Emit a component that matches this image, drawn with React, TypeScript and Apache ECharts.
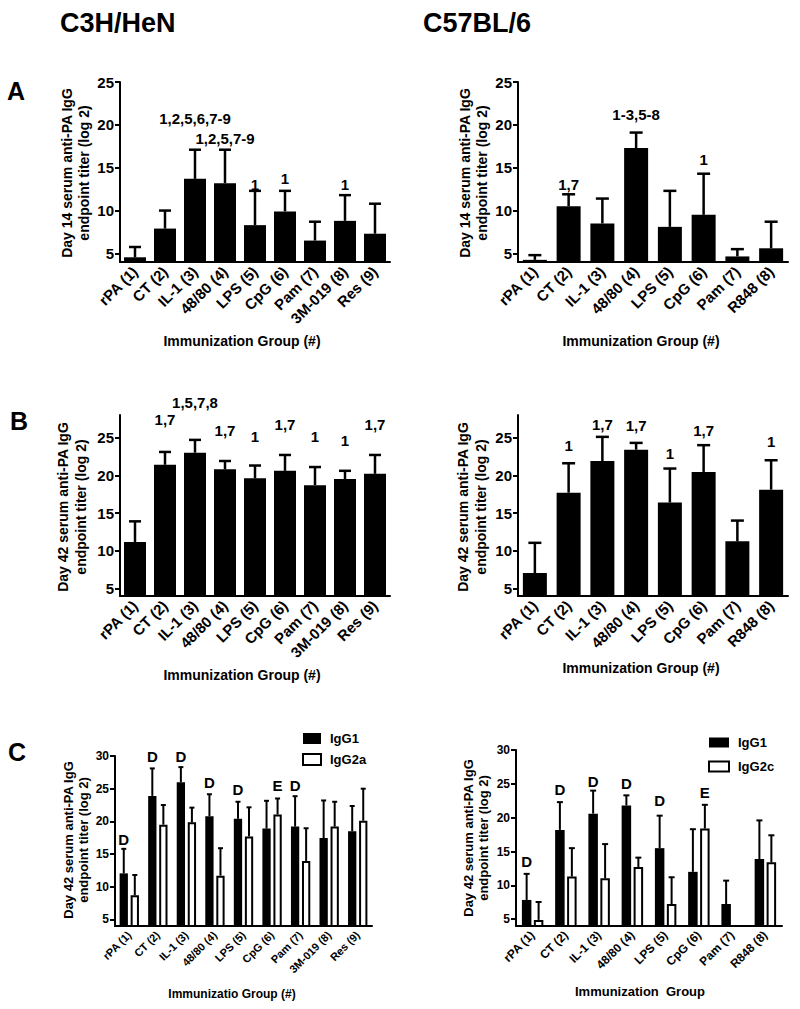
import React, { useEffect, useRef } from "react";
import * as echarts from "echarts";

const FONT = "'Liberation Sans', Arial, Helvetica, sans-serif";

// Categories
const catsC3H = ["rPA (1)", "CT (2)", "IL-1 (3)", "48/80 (4)", "LPS (5)", "CpG (6)", "Pam (7)", "3M-019 (8)", "Res (9)"];
const catsC57 = ["rPA (1)", "CT (2)", "IL-1 (3)", "48/80 (4)", "LPS (5)", "CpG (6)", "Pam (7)", "R848 (8)"];

// Panel A: Day 14 total IgG (mean, mean+SD)
const meanA_C3H = [4.55, 7.9, 13.7, 13.2, 8.3, 9.9, 6.5, 8.8, 7.3];
const errA_C3H = [5.75, 10.0, 17.1, 17.1, 12.3, 12.3, 8.7, 11.8, 10.8];
const meanA_C57 = [4.25, 10.5, 8.5, 17.3, 8.1, 9.5, 4.65, 5.6];
const errA_C57 = [4.8, 11.9, 11.4, 19.1, 12.3, 14.3, 5.5, 8.7];

// Panel B: Day 42 total IgG
const meanB_C3H = [11.15, 21.4, 23.0, 20.8, 19.6, 20.6, 18.7, 19.5, 20.2];
const errB_C3H = [13.9, 23.1, 24.7, 21.9, 21.3, 22.7, 21.1, 20.6, 22.7];
const meanB_C57 = [7.05, 17.7, 21.9, 23.4, 16.4, 20.45, 11.25, 18.1];
const errB_C57 = [11.05, 21.6, 25.1, 24.3, 20.9, 24.0, 14.0, 22.0];

// Panel C: Day 42 subclasses
const igg1_C3H = [12.05, 23.9, 26.0, 20.8, 20.4, 18.9, 19.2, 17.45, 18.5];
const igg1Err_C3H = [15.8, 28.1, 28.3, 24.15, 23.0, 23.15, 23.85, 23.2, 22.35];
const igg2a_C3H = [8.7, 19.5, 19.85, 11.7, 17.7, 21.05, 13.95, 19.2, 20.1];
const igg2aErr_C3H = [11.8, 22.5, 22.1, 15.9, 22.15, 23.5, 18.95, 23.0, 25.0];
const igg1_C57 = [7.85, 18.2, 20.6, 21.8, 15.5, 12.0, 7.25, 13.9];
const igg1Err_C57 = [11.7, 22.3, 24.0, 23.3, 20.3, 18.3, 10.7, 19.6];
const igg2c_C57 = [4.9, 11.3, 11.05, 12.7, 7.25, 18.4, null, 13.4];
const igg2cErr_C57 = [7.55, 15.5, 16.1, 14.1, 11.2, 21.9, null, 17.4];

// Tick labels
const ticksAB = [5, 10, 15, 20, 25];
const ticksC = [5, 10, 15, 20, 25, 30];

// Significance annotations: [category index, y value, text, bar (0 = IgG1, 1 = IgG2)]
const annA_C3H: [number, number, string][] = [[2, 20.7, "1,2,5,6,7-9"], [3, 18.4, "1,2,5,7-9"], [4, 13.05, "1"], [5, 13.7, "1"], [7, 13.05, "1"]];
const annA_C57: [number, number, string][] = [[1, 13.05, "1,7"], [3, 21.25, "1-3,5-8"], [5, 16.0, "1"]];
const annB_C3H: [number, number, string][] = [[1, 27.4, "1,7"], [2, 29.7, "1,5,7,8"], [3, 25.9, "1,7"], [4, 25.2, "1"], [5, 26.7, "1,7"], [6, 25.2, "1"], [7, 24.6, "1"], [8, 26.7, "1,7"]];
const annB_C57: [number, number, string][] = [[1, 24.0, "1"], [2, 26.8, "1,7"], [3, 26.6, "1,7"], [4, 22.9, "1"], [5, 26.0, "1,7"], [7, 24.55, "1"]];
const annC_C3H: [number, number, string, number][] = [[0, 17.2, "D", 0], [1, 30.0, "D", 0], [2, 30.0, "D", 0], [3, 25.9, "D", 0], [4, 24.95, "D", 0], [5, 25.45, "E", 1], [6, 25.45, "D", 0]];
const annC_C57: [number, number, string, number][] = [[0, 13.6, "D", 0], [1, 24.1, "D", 0], [2, 25.3, "D", 0], [3, 25.0, "D", 0], [4, 22.6, "D", 0], [5, 23.7, "E", 1]];

const BLACK = "#000";

function xAxisOf(gridIndex: number, data: string[], fontSize: number) {
  return {
    type: "category",
    gridIndex,
    data,
    axisLine: { lineStyle: { color: BLACK, width: 2 } },
    axisTick: { alignWithLabel: true, length: 5, lineStyle: { color: BLACK, width: 2 } },
    axisLabel: { rotate: 45, interval: 0, fontSize, fontWeight: "bold", color: BLACK, fontFamily: FONT, margin: 7 },
    splitLine: { show: false },
  };
}

function yAxisOf(gridIndex: number, min: number, max: number, ticks: number[], fontSize: number) {
  return {
    type: "value",
    gridIndex,
    min,
    max,
    axisLine: { show: true, lineStyle: { color: BLACK, width: 2 } },
    axisTick: { show: true, length: 5, customValues: ticks, lineStyle: { color: BLACK, width: 2 } },
    axisLabel: { customValues: ticks, fontSize, fontWeight: "bold", color: BLACK, fontFamily: FONT, margin: 6 },
    splitLine: { show: false },
  };
}

function errSeries(k: number, tops: (number | null)[], errs: (number | null)[], offset: number, capW: number, lw: number) {
  const data: number[][] = [];
  tops.forEach((t, i) => {
    const e = errs[i];
    if (t != null && e != null) data.push([i, t, e]);
  });
  return {
    type: "custom",
    xAxisIndex: k,
    yAxisIndex: k,
    z: 5,
    silent: true,
    data,
    renderItem: (params: any, api: any) => {
      const i = api.value(0);
      const p1 = api.coord([i, api.value(1)]);
      const p2 = api.coord([i, api.value(2)]);
      const x = p1[0] + offset;
      return {
        type: "group",
        children: [
          { type: "line", shape: { x1: x, y1: p1[1], x2: x, y2: p2[1] }, style: { stroke: BLACK, lineWidth: lw } },
          { type: "line", shape: { x1: x - capW / 2, y1: p2[1], x2: x + capW / 2, y2: p2[1] }, style: { stroke: BLACK, lineWidth: lw } },
        ],
      };
    },
  };
}

function annSeries(k: number, anns: any[], fontSize: number, offsets?: number[]) {
  return {
    type: "scatter",
    xAxisIndex: k,
    yAxisIndex: k,
    symbol: "circle",
    symbolSize: 0,
    clip: false,
    silent: true,
    z: 6,
    itemStyle: { color: BLACK, opacity: 1 },
    data: anns.map((a) => ({
      value: [a[0], a[1]],
      txt: a[2],
      label: { offset: [offsets ? offsets[a[3] || 0] : 0, 0] },
    })),
    label: {
      show: true,
      position: "inside",
      formatter: (p: any) => p.data.txt,
      fontSize,
      fontWeight: "bold",
      color: BLACK,
      textBorderWidth: 0,
      opacity: 1,
      fontFamily: FONT,
    },
  };
}

function textG(text: string, x: number, y: number, fontSize: number, opts: any = {}) {
  return {
    type: "text",
    x,
    y,
    rotation: opts.rotation || 0,
    style: {
      text,
      fontSize,
      fontWeight: "bold",
      fontFamily: FONT,
      fill: BLACK,
      align: opts.align || "center",
      verticalAlign: "middle",
      lineHeight: opts.lineHeight || fontSize * 1.2,
    },
  };
}

export default function App() {
  const ref = useRef<HTMLDivElement>(null);
  useEffect(() => {
    if (!ref.current) return;
    const chart = echarts.init(ref.current, null, { renderer: "svg" });

    const bwC1 = 8.3, gapC1 = 0.33, offC1 = (bwC1 * (1 + gapC1)) / 2;
    const bwC2 = 9.5, gapC2 = 0.26, offC2 = (bwC2 * (1 + gapC2)) / 2;

    const option: any = {
      animation: false,
      backgroundColor: "#fff",
      grid: [
        { left: 120, top: 82, width: 270, height: 180 },
        { left: 518, top: 82, width: 270, height: 180 },
        { left: 120, top: 415, width: 270, height: 181 },
        { left: 518, top: 415, width: 270, height: 181 },
        { left: 115, top: 756, width: 257, height: 170 },
        { left: 516, top: 750, width: 266, height: 176 },
      ],
      xAxis: [
        xAxisOf(0, catsC3H, 15),
        xAxisOf(1, catsC57, 15),
        xAxisOf(2, catsC3H, 15),
        xAxisOf(3, catsC57, 15),
        xAxisOf(4, catsC3H, 11),
        xAxisOf(5, catsC57, 12),
      ],
      yAxis: [
        yAxisOf(0, 4, 25, ticksAB, 15),
        yAxisOf(1, 4, 25, ticksAB, 15),
        yAxisOf(2, 4, 28, ticksAB, 15),
        yAxisOf(3, 4, 28, ticksAB, 15),
        yAxisOf(4, 4, 30, ticksC, 12),
        yAxisOf(5, 4, 30, ticksC, 12),
      ],
      legend: [
        {
          left: 297, top: 727, orient: "vertical", icon: "rect", itemWidth: 18, itemHeight: 11, itemGap: 8,
          data: ["IgG1", "IgG2a"], selectedMode: false,
          textStyle: { fontSize: 13, fontWeight: "bold", color: BLACK, fontFamily: FONT, padding: [0, 0, 0, 4] },
        },
        {
          left: 703, top: 731, orient: "vertical", icon: "rect", itemWidth: 20, itemHeight: 10, itemGap: 11,
          data: ["IgG1", "IgG2c"], selectedMode: false,
          textStyle: { fontSize: 13, fontWeight: "bold", color: BLACK, fontFamily: FONT, padding: [0, 0, 0, 4] },
        },
      ],
      series: [
        { type: "bar", name: "A1", xAxisIndex: 0, yAxisIndex: 0, data: meanA_C3H, barWidth: 22, itemStyle: { color: BLACK } },
        errSeries(0, meanA_C3H, errA_C3H, 0, 12, 2.5),
        annSeries(0, annA_C3H, 15),
        { type: "bar", name: "A2", xAxisIndex: 1, yAxisIndex: 1, data: meanA_C57, barWidth: 24, itemStyle: { color: BLACK } },
        errSeries(1, meanA_C57, errA_C57, 0, 13, 2.5),
        annSeries(1, annA_C57, 15),
        { type: "bar", name: "B1", xAxisIndex: 2, yAxisIndex: 2, data: meanB_C3H, barWidth: 22, itemStyle: { color: BLACK } },
        errSeries(2, meanB_C3H, errB_C3H, 0, 12, 2.5),
        annSeries(2, annB_C3H, 15),
        { type: "bar", name: "B2", xAxisIndex: 3, yAxisIndex: 3, data: meanB_C57, barWidth: 24, itemStyle: { color: BLACK } },
        errSeries(3, meanB_C57, errB_C57, 0, 13, 2.5),
        annSeries(3, annB_C57, 15),
        {
          type: "bar", name: "IgG1", xAxisIndex: 4, yAxisIndex: 4, data: igg1_C3H, barWidth: bwC1, barGap: gapC1 * 100 + "%",
          itemStyle: { color: BLACK },
        },
        {
          type: "bar", name: "IgG2a", xAxisIndex: 4, yAxisIndex: 4, data: igg2a_C3H, barWidth: bwC1, barGap: gapC1 * 100 + "%",
          itemStyle: { color: "#fff", borderColor: BLACK, borderWidth: 2 },
        },
        errSeries(4, igg1_C3H, igg1Err_C3H, -offC1, 5, 2),
        errSeries(4, igg2a_C3H, igg2aErr_C3H, offC1, 5, 2),
        annSeries(4, annC_C3H, 15, [-offC1, offC1]),
        {
          type: "bar", name: "IgG1", xAxisIndex: 5, yAxisIndex: 5, data: igg1_C57, barWidth: bwC2, barGap: gapC2 * 100 + "%",
          itemStyle: { color: BLACK },
        },
        {
          type: "bar", name: "IgG2c", xAxisIndex: 5, yAxisIndex: 5, data: igg2c_C57, barWidth: bwC2, barGap: gapC2 * 100 + "%",
          itemStyle: { color: "#fff", borderColor: BLACK, borderWidth: 2 },
        },
        errSeries(5, igg1_C57, igg1Err_C57, -offC2, 6, 2),
        errSeries(5, igg2c_C57, igg2cErr_C57, offC2, 6, 2),
        annSeries(5, annC_C57, 15, [-offC2, offC2]),
      ],
      graphic: [
        textG("C3H/HeN", 60, 23, 27, { align: "left" }),
        textG("C57BL/6", 423, 23, 27, { align: "left" }),
        textG("A", 16, 91, 25),
        textG("B", 19, 421, 25),
        textG("C", 17, 752, 25),
        textG("Day 14 serum anti-PA IgG\nendpoint titer (log 2)", 75, 173, 14, { rotation: Math.PI / 2, lineHeight: 17 }),
        textG("Day 14 serum anti-PA IgG\nendpoint titer (log 2)", 473, 173, 14, { rotation: Math.PI / 2, lineHeight: 17 }),
        textG("Day 42 serum anti-PA IgG\nendpoint titer (log 2)", 72, 507, 14, { rotation: Math.PI / 2, lineHeight: 18 }),
        textG("Day 42 serum anti-PA IgG\nendpoint titer (log 2)", 472, 507, 14, { rotation: Math.PI / 2, lineHeight: 18 }),
        textG("Day 42 serum anti-PA IgG\nendpoint titer (log 2)", 75.5, 840, 13, { rotation: Math.PI / 2, lineHeight: 15 }),
        textG("Day 42 serum anti-PA IgG\nendpoint titer (log 2)", 475.5, 838, 13, { rotation: Math.PI / 2, lineHeight: 15 }),
        textG("Immunization Group (#)", 242, 341, 14),
        textG("Immunization Group (#)", 641, 341, 14),
        textG("Immunization Group (#)", 242, 675, 14),
        textG("Immunization Group (#)", 641, 668, 14),
        textG("Immunizatio Group (#)", 232, 994, 12),
        textG("Immunization  Group", 640, 991, 13),
      ],
    };
    chart.setOption(option);
    return () => chart.dispose();
  }, []);
  return (
    <div
      ref={ref}
      style={{ position: "fixed", left: 0, top: 0, width: 800, height: 1009, background: "#fff" }}
    />
  );
}
